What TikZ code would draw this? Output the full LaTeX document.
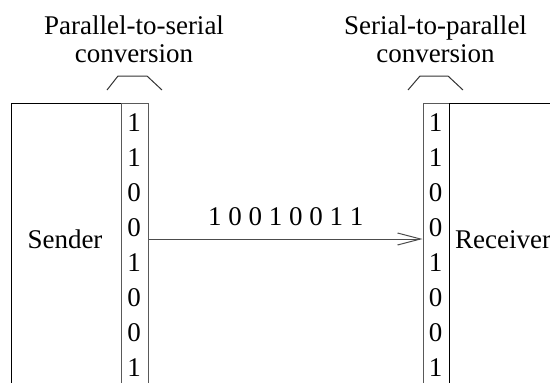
\documentclass[tikz,border=0pt]{standalone}
\usepackage{fontspec}
\setmainfont{Liberation Serif}
\usetikzlibrary{arrows.meta}
\tikzset{
  txt/.style={font=\fontsize{27}{28}\selectfont, inner sep=0pt, text=black},
  bit/.style={txt},
  boxline/.style={draw=black, line width=1.1pt},
  colline/.style={draw=black!65, line width=1.2pt},
  brace/.style={draw=black!80, line width=1pt},
  link/.style={draw=black!70, line width=0.9pt,
    -{Straight Barb[length=23pt,width=12pt,line width=1pt]}},
}
\begin{document}
\begin{tikzpicture}[x=1pt,y=-1pt]
\useasboundingbox (0,0) rectangle (550,383);
\clip (0,0) rectangle (550,383);

% sender block and its shift-out column
\node[boxline, anchor=north west, minimum width=110pt, minimum height=330pt,
      inner sep=0pt] (sender) at (11,102.5) {};
\node[colline, anchor=north west, minimum width=27pt, minimum height=330pt,
      inner sep=0pt] (pcol) at (121,102.5) {};
\node[txt] (sname) at (65,239) {Sender};

% receiver block and its shift-in column
\node[colline, anchor=north west, minimum width=26pt, minimum height=330pt,
      inner sep=0pt] (scol) at (422.5,102.5) {};
\node[boxline, anchor=north west, minimum width=140pt, minimum height=330pt,
      inner sep=0pt] (receiver) at (448.5,102.5) {};
\node[txt, anchor=west] (rname) at (455,240) {Receiver};

% bits held in each column
\foreach \b [count=\i from 0] in {1,1,0,0,1,0,0,1} {
  \node[bit] (p\i) at (134,{122.5+35*\i}) {\b};
  \node[bit] (s\i) at (435.5,{122.5+35*\i}) {\b};
}

% titles and their brackets
\node[txt, align=center, anchor=north] (ptitle) at (134,16) {Parallel-to-serial\\conversion};
\node[txt, align=center, anchor=north] (stitle) at (435.5,16) {Serial-to-parallel\\conversion};
\draw[brace] (107,90) -- (118,76) -- (147,76) -- (162,90);
\draw[brace] (408,90) -- (420,76) -- (448,76) -- (463,90);

% serial line
\coordinate (out) at (pcol.east |- 0,239);
\coordinate (in) at (scol.west |- 0,239);
\draw[link] (out) -- (in) node[txt, midway, above=13pt] (stream) {1 0 0 1 0 0 1 1};
\end{tikzpicture}
\end{document}
